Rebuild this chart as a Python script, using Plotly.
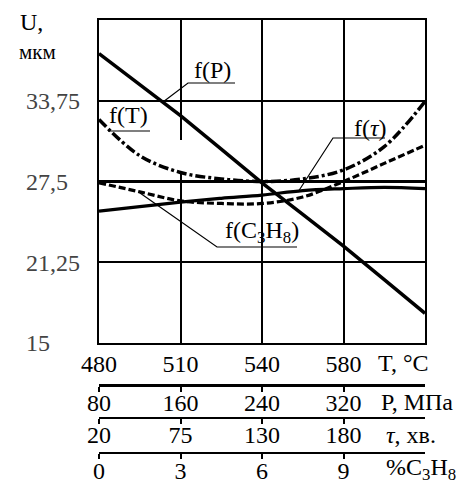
import plotly.graph_objects as go

W, H = 460, 483

# ---- data ----
grid_pos = [0, 0.5, 1, 1.5, 2, 2.5, 3, 3.5, 4]          # position along the common scale
U_P = [37.4, 35.0, 32.6, 30.0, 27.4, 24.95, 22.5, 19.9, 17.3]
U_T = [32.3, 29.5, 28.2, 27.7, 27.5, 27.7, 28.4, 30.2, 33.7]
U_tau = [27.4, 26.7, 26.0, 25.8, 25.8, 26.3, 27.5, 28.9, 30.3]
U_C3H8 = [25.2, 25.55, 25.9, 26.2, 26.45, 26.8, 26.95, 27.05, 26.95]
U_ref = 27.5

tick_pos = [0, 1, 2, 3]
T_ticks = ["480", "510", "540", "580"]
P_ticks = ["80", "160", "240", "320"]
tau_ticks = ["20", "75", "130", "180"]
c3h8_ticks = ["0", "3", "6", "9"]
U_tickvals = [15, 21.25, 27.5, 33.75]
U_ticktext = ["15", "21,25", "27,5", "33,75"]

FONT = "Liberation Serif"
FS = 24


def px(x):
    return x / W


def py(y):
    return (H - y) / H


fig = go.Figure()

fig.add_trace(go.Scatter(x=[grid_pos[0], grid_pos[-1]], y=[U_ref, U_ref], mode="lines",
                         line=dict(color="black", width=3), hoverinfo="skip"))
fig.add_trace(go.Scatter(x=grid_pos, y=U_P, mode="lines",
                         line=dict(color="black", width=3.5), hoverinfo="skip"))
fig.add_trace(go.Scatter(x=grid_pos, y=U_T, mode="lines", line_shape="spline",
                         line=dict(color="black", width=3.5, dash="10px,3px,3px,3px"), hoverinfo="skip"))
fig.add_trace(go.Scatter(x=grid_pos, y=U_tau, mode="lines", line_shape="spline",
                         line=dict(color="black", width=3.2, dash="7px,3px"), hoverinfo="skip"))
fig.add_trace(go.Scatter(x=grid_pos, y=U_C3H8, mode="lines", line_shape="spline",
                         line=dict(color="black", width=3.2), hoverinfo="skip"))

# dummy traces for extra axes
fig.add_trace(go.Scatter(x=[None], y=[None], xaxis="x", yaxis="y5", hoverinfo="skip"))
for i in (2, 3, 4):
    fig.add_trace(go.Scatter(x=[None], y=[None], xaxis=f"x{i}", yaxis=f"y{i}", hoverinfo="skip"))

xdom = [px(99), px(425)]
fig.update_layout(
    width=W, height=H, margin=dict(l=0, r=0, t=0, b=0, autoexpand=False),
    plot_bgcolor="white", paper_bgcolor="white", showlegend=False,
    font=dict(family=FONT, size=FS, color="black"),
    xaxis=dict(domain=xdom, range=[0, 4], tickvals=tick_pos, ticktext=T_ticks,
               showgrid=True, gridcolor="black", gridwidth=1.5, showline=True,
               linecolor="black", linewidth=2, mirror=True, ticks="", zeroline=False,
               ticklabelstandoff=-2, anchor="y", automargin=False),
    yaxis=dict(domain=[py(343), py(20)], range=[15, 40], tickvals=U_tickvals,
               showgrid=True, gridcolor="black", gridwidth=1.5, showline=True,
               linecolor="black", linewidth=2, mirror=True, ticks="", zeroline=False,
               showticklabels=False, anchor="x", automargin=False),
    yaxis5=dict(overlaying="y", anchor="free", position=px(22), side="left",
                range=[15, 40], tickvals=U_tickvals, ticktext=U_ticktext,
                ticklabelposition="inside", ticklabeloverflow="allow", automargin=False,
                showgrid=False, showline=False, ticks="", zeroline=False),
)

sec = {2: (384, P_ticks, 3, -10), 3: (417, tau_ticks, 2, -10), 4: (452, c3h8_ticks, 2, -9)}
for i, (ypix, labels, lw, so) in sec.items():
    fig.update_layout(**{
        f"yaxis{i}": dict(domain=[py(ypix), py(ypix) + 0.001], visible=False, range=[0, 1],
                          showgrid=False, zeroline=False, automargin=False),
        f"xaxis{i}": dict(domain=xdom, range=[0, 4], anchor=f"y{i}", side="bottom",
                          tickvals=tick_pos, ticktext=labels, showgrid=False, zeroline=False,
                          showline=True, linecolor="black", linewidth=lw, automargin=False,
                          ticks="outside", ticklen=5, tickwidth=2, tickcolor="black",
                          ticklabelstandoff=so),
    })

# axis titles
for txt, x, y in [("T, °C", 403, 363), ("P, МПа", 417, 402), ("<i>τ</i>, хв.", 411, 435),
                  ("%C<sub>3</sub>H<sub>8</sub>", 421, 469)]:
    fig.add_annotation(text=txt, x=px(x), y=py(y), xref="paper", yref="paper",
                       showarrow=False, xanchor="center", yanchor="middle")
fig.add_annotation(text="U,", x=px(18), y=py(22), xref="paper", yref="paper",
                   showarrow=False, xanchor="left", yanchor="middle")
fig.add_annotation(text="мкм", x=px(17), y=py(52), xref="paper", yref="paper",
                   showarrow=False, xanchor="left", yanchor="middle", font=dict(size=21))


def dx(p):
    return (p - 99) / 81.5


def dy(p):
    return 40 - (p - 20) / 12.92


# curve labels
for txt, x, y in [("f(P)", 212, 70), ("f(T)", 128, 115), ("f(<i>τ</i>)", 370, 128),
                  ("f(C<sub>3</sub>H<sub>8</sub>)", 262, 232)]:
    fig.add_annotation(text=txt, x=dx(x), y=dy(y), xref="x", yref="y", showarrow=False,
                       xanchor="center", yanchor="middle")

# leader lines
leaders = [
    [(163, 102), (188, 83), (235, 83)],
    [(108, 131), (150, 131)],
    [(298, 192), (333, 138), (385, 138)],
    [(140, 193), (217, 247), (297, 247)],
]
for pts in leaders:
    path = "M " + " L ".join(f"{dx(a):.4f},{dy(b):.4f}" for a, b in pts)
    fig.add_shape(type="path", path=path, xref="x", yref="y",
                  line=dict(color="black", width=1.2))

# small gap in the gridline at 510
fig.add_shape(type="line", x0=1, x1=1, y0=dy(140), y1=dy(174), xref="x", yref="y",
              line=dict(color="white", width=3), layer="between")

fig.write_html("out.html")
